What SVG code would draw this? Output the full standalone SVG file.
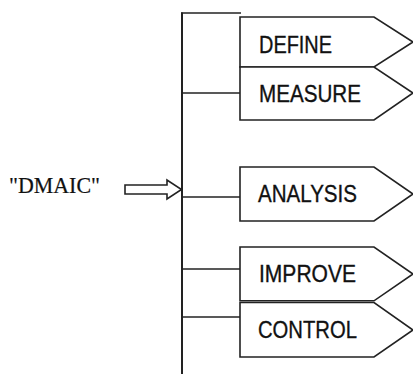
<svg xmlns="http://www.w3.org/2000/svg" width="413" height="374" viewBox="0 0 413 374">
<style>
.box{fill:#fff;stroke:#222;stroke-width:1.6;stroke-linejoin:miter}
.lbl{font-family:"Liberation Sans",Arial,sans-serif;font-size:24.5px;fill:#111;stroke:#111;stroke-width:0.35}
.ln{stroke:#222;stroke-width:1.6;fill:none}
.dm{font-family:"Liberation Serif","Times New Roman",serif;font-size:23px;fill:#111;stroke:#111;stroke-width:0.2}
</style>
<rect width="413" height="374" fill="#fff"/>
<g id="connectors">
<line class="ln" x1="182" y1="12.5" x2="182" y2="374" style="stroke-width:2"/>
<line class="ln" x1="181" y1="13" x2="241" y2="13"/>
<line class="ln" x1="182" y1="93" x2="240" y2="93"/>
<line class="ln" x1="182" y1="197" x2="240" y2="197"/>
<line class="ln" x1="182" y1="269" x2="240" y2="269"/>
<line class="ln" x1="182" y1="317" x2="240" y2="317"/>
<polygon class="box" points="125,185 167,185 167,180 181.5,189.5 167,199 167,194 125,194"/>
</g>
<g id="dmaic"><text class="dm" x="9" y="193.3" textLength="91" lengthAdjust="spacingAndGlyphs">"DMAIC"</text></g>
<g id="define">
<polygon class="box" points="240,17 374,17 413,42 374,67 240,67"/>
<text class="lbl" x="259" y="52.5" textLength="73" lengthAdjust="spacingAndGlyphs">DEFINE</text>
</g>
<g id="measure">
<polygon class="box" points="240,67 374,67 413,93 374,120 240,120"/>
<text class="lbl" x="259" y="101.7" textLength="102" lengthAdjust="spacingAndGlyphs">MEASURE</text>
</g>
<g id="analysis">
<polygon class="box" points="240,167 374,167 413,194 374,221 240,221"/>
<text class="lbl" x="258" y="201.7" textLength="99" lengthAdjust="spacingAndGlyphs">ANALYSIS</text>
</g>
<g id="improve">
<polygon class="box" points="240,247 374,247 413,274 374,300.8 240,300.8"/>
<text class="lbl" x="259" y="281.7" textLength="97" lengthAdjust="spacingAndGlyphs">IMPROVE</text>
</g>
<g id="control">
<polygon class="box" points="240,302.5 374,302.5 413,330 374,357 240,357"/>
<text class="lbl" x="258" y="338" textLength="99" lengthAdjust="spacingAndGlyphs">CONTROL</text>
</g>
</svg>
